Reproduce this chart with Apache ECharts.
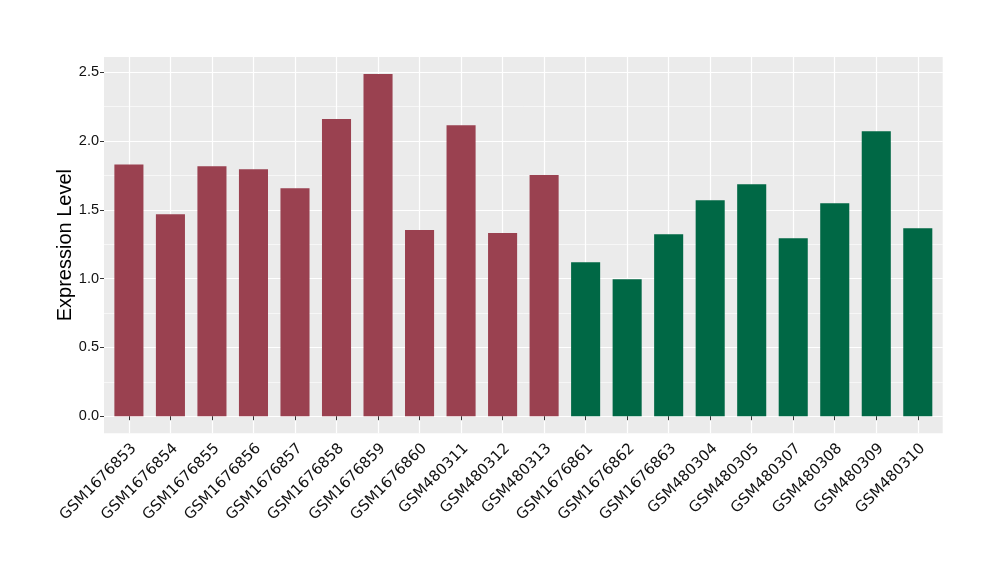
<!DOCTYPE html>
<html><head><meta charset="utf-8">
<script src="https://cdn.jsdelivr.net/npm/echarts@6/dist/echarts.min.js"></script>
<style>html,body{margin:0;padding:0;background:#fff}#c{width:1000px;height:580px}</style>
</head><body><div id="c"></div>
<script>
const categories = ['GSM1676853','GSM1676854','GSM1676855','GSM1676856','GSM1676857','GSM1676858','GSM1676859','GSM1676860','GSM480311','GSM480312','GSM480313','GSM1676861','GSM1676862','GSM1676863','GSM480304','GSM480305','GSM480307','GSM480308','GSM480309','GSM480310'];
const values = [1.830,1.469,1.818,1.796,1.658,2.160,2.487,1.353,2.116,1.331,1.753,1.120,0.996,1.323,1.570,1.686,1.294,1.548,2.071,1.366];
const groups = ['A','A','A','A','A','A','A','A','A','A','A','B','B','B','B','B','B','B','B','B'];
const groupColors = {A:'#9A4150', B:'#006845'};
const yTickMin = 0, yTickMax = 2.5, yTickStep = 0.5;
const yTitle = 'Expression Level';

// panel layout (pixels)
const P = {left:104, right:942.7, top:57, bottom:433.3};
const labelShift = 5;
const dataMax = Math.max(...values);
const yLo = -0.05*dataMax, yHi = 1.05*dataMax;
const ppu = (P.bottom-P.top)/(yHi-yLo);
const aTop = P.top + (yHi-yTickMax)*ppu;
const aBottom = P.bottom - (yTickMin-yLo)*ppu;
const n = categories.length;
const band = (P.right-P.left)/(n-1+1.2);
const bLeft = P.left + 0.6*band, bRight = P.right - 0.6*band;

const chart = echarts.init(document.getElementById('c'), null, {renderer:'canvas'});
chart.setOption({
  animation:false,
  backgroundColor:'#fff',
  grid:[
    {left:P.left, top:P.top, width:P.right-P.left, height:P.bottom-P.top, show:true, backgroundColor:'#EBEBEB', borderWidth:0, containLabel:false},
    {left:P.left, top:aTop, width:P.right-P.left, height:aBottom-aTop, show:false, containLabel:false},
    {left:bLeft, top:P.top, width:bRight-bLeft, height:P.bottom-P.top, show:false, containLabel:false},
    {left:bLeft+labelShift, top:P.top, width:bRight-bLeft, height:P.bottom-P.top, show:false, containLabel:false}
  ],
  xAxis:[
    {gridIndex:0, type:'value', min:0, max:1, show:false},
    {gridIndex:1, type:'value', min:0, max:1, show:false},
    {gridIndex:2, type:'category', data:categories, boundaryGap:false,
     axisLine:{show:false},
     axisTick:{show:true, length:4, interval:0, lineStyle:{color:'#333', width:1}},
     axisLabel:{show:false},
     splitLine:{show:true, interval:0, lineStyle:{color:'#fff', width:1.2}}},
    {gridIndex:3, type:'category', data:categories, boundaryGap:false,
     axisLine:{show:false}, axisTick:{show:false}, splitLine:{show:false},
     axisLabel:{show:true, interval:0, rotate:45, margin:13, fontFamily:'DejaVu Sans', fontSize:15, color:'#111'}}
  ],
  yAxis:[
    {gridIndex:0, type:'value', min:yLo, max:yHi, name:yTitle, nameLocation:'middle', nameGap:29,
     nameTextStyle:{fontFamily:'Liberation Sans', fontSize:20, color:'#000'},
     axisLine:{show:false}, axisTick:{show:false}, axisLabel:{show:false}, splitLine:{show:false}},
    {gridIndex:1, type:'value', min:yTickMin, max:yTickMax, interval:yTickStep,
     axisLine:{show:false},
     axisTick:{show:true, length:4, lineStyle:{color:'#333', width:1}},
     axisLabel:{show:true, margin:5, fontFamily:'Liberation Sans', fontSize:14.5, color:'#111', formatter:v=>v.toFixed(1)},
     splitLine:{show:true, lineStyle:{color:'#fff', width:1.2}},
     minorTick:{show:false, splitNumber:2},
     minorSplitLine:{show:true, lineStyle:{color:'#fff', width:0.6}}},
    {gridIndex:2, type:'value', min:yLo, max:yHi, show:false},
    {gridIndex:3, type:'value', min:yLo, max:yHi, show:false}
  ],
  series:[{
    type:'bar', xAxisIndex:2, yAxisIndex:2, clip:false,
    barWidth: band*0.7,
    data: values.map((v,i)=>({value:v, itemStyle:{color:groupColors[groups[i]]}}))
  }]
});
</script></body></html>
